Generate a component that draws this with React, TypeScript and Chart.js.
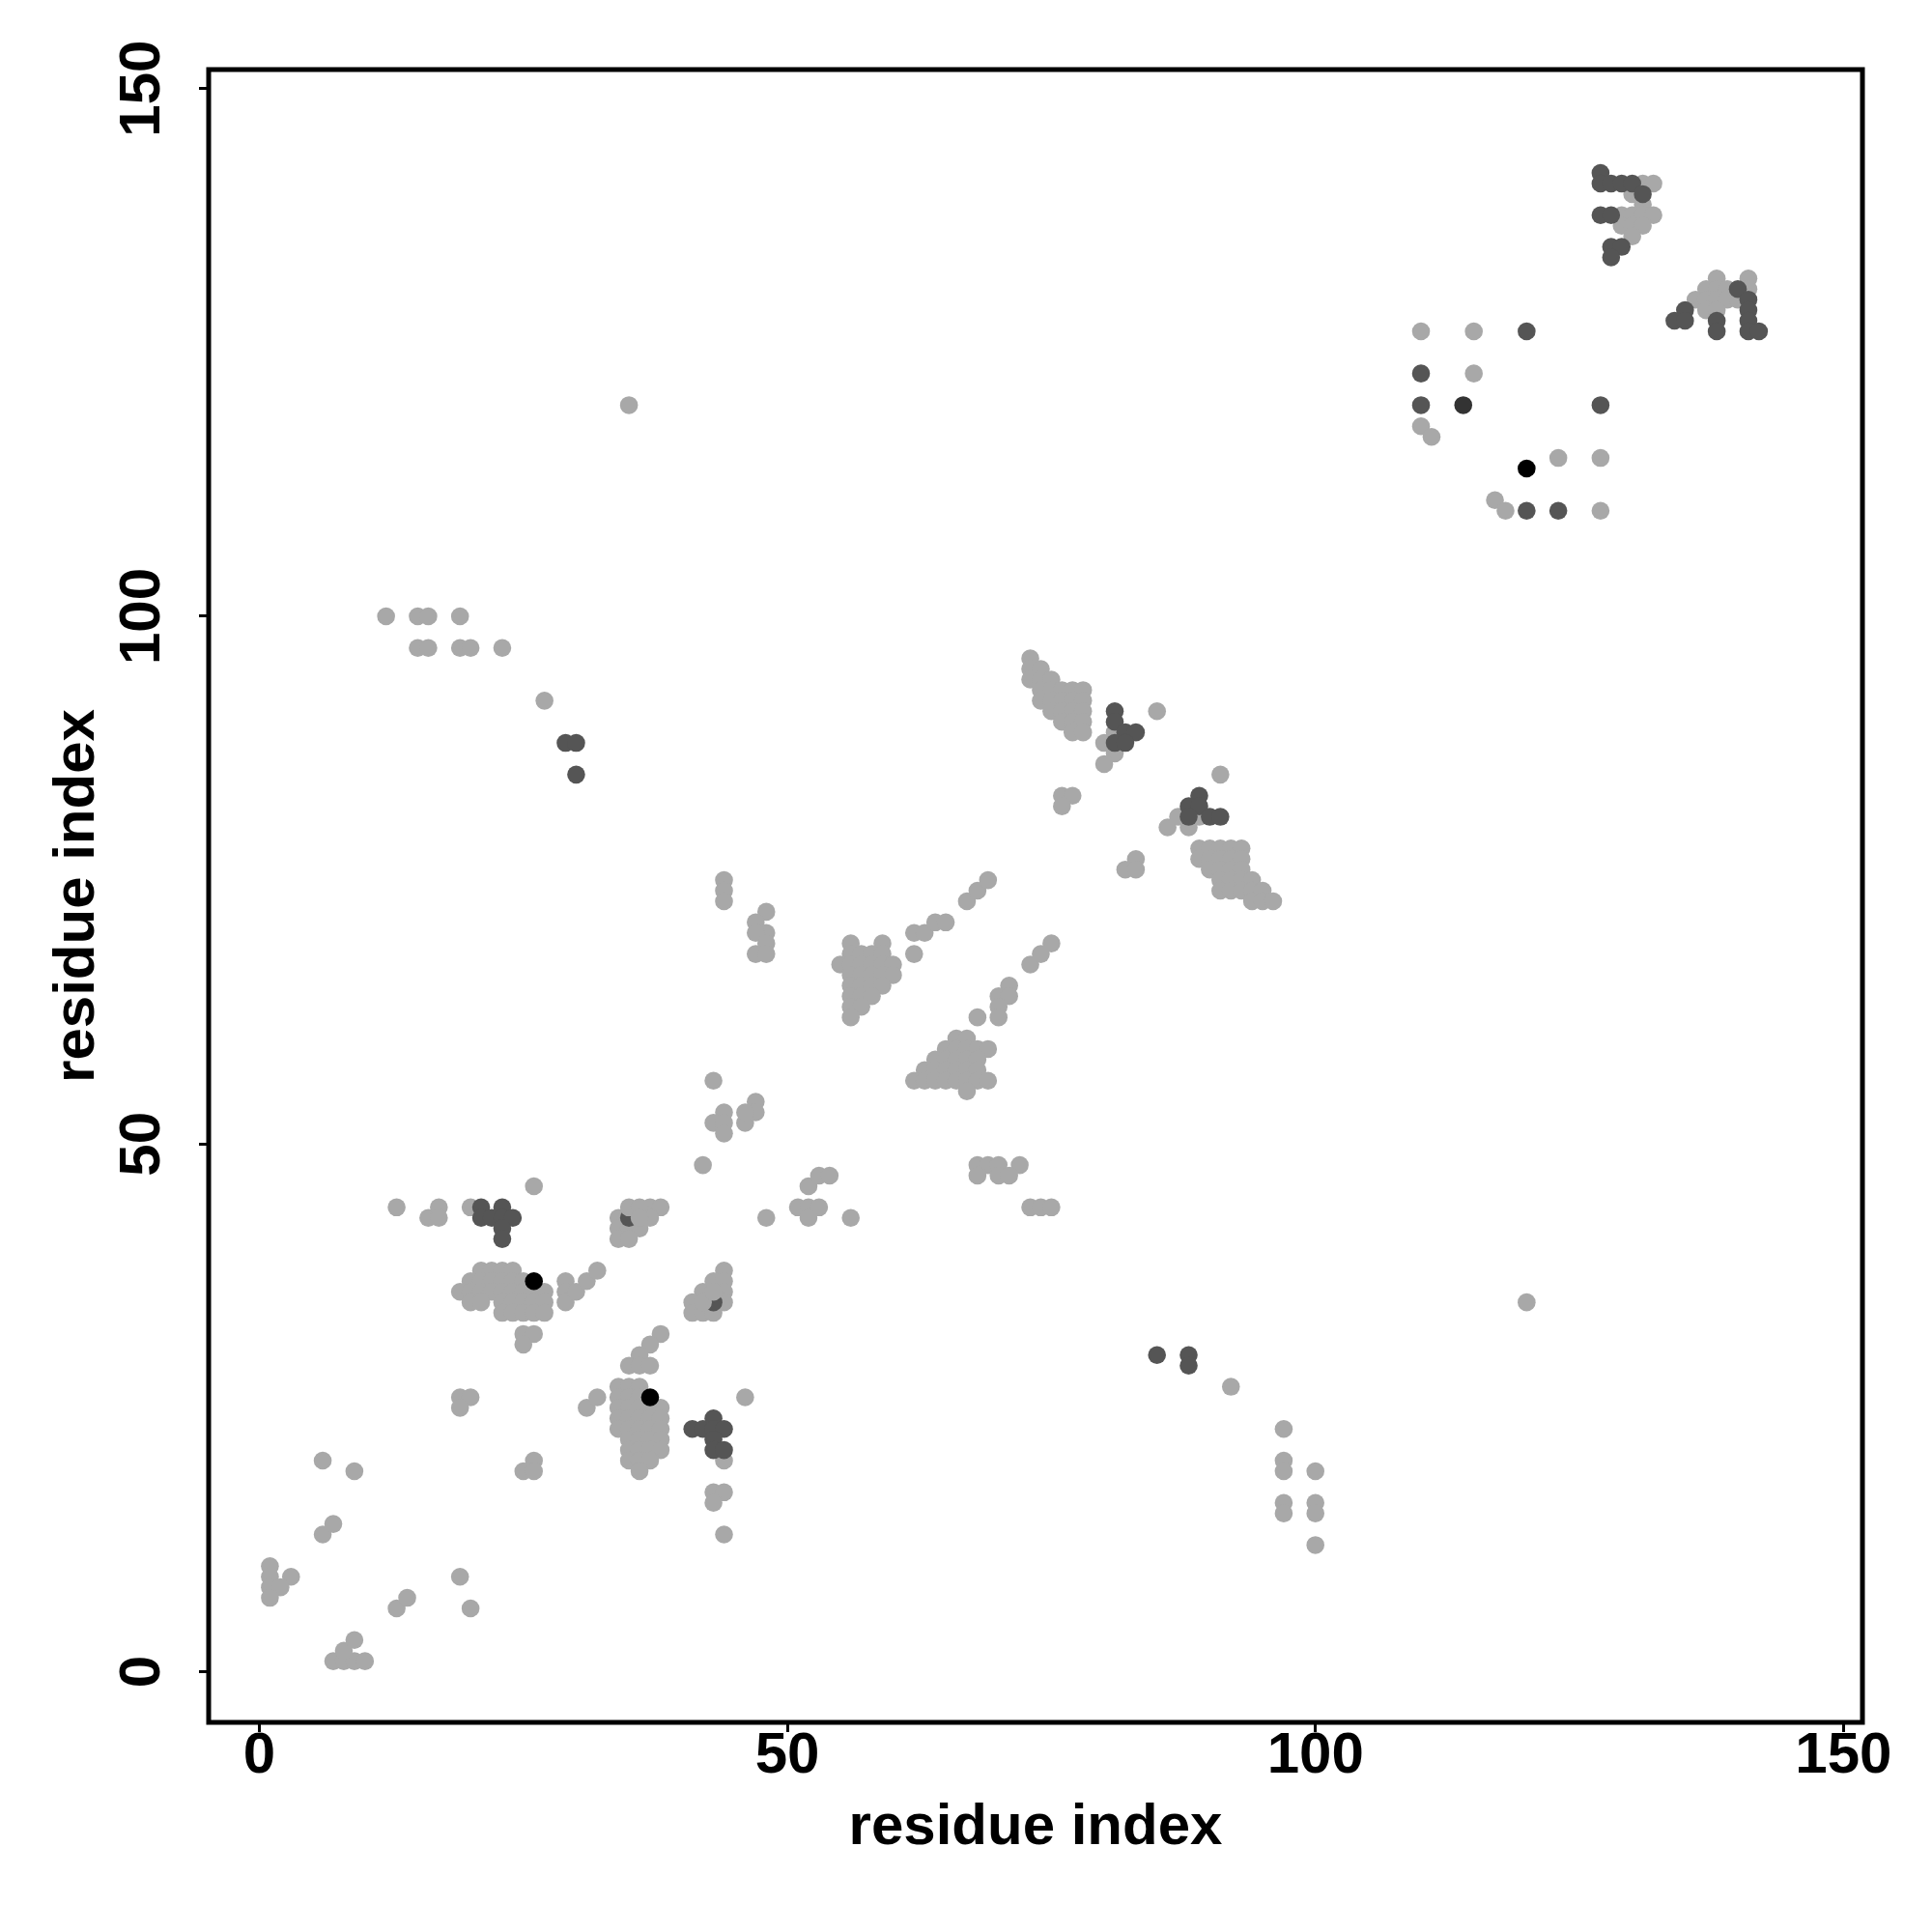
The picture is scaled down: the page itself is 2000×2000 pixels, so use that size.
import React, { useEffect, useRef } from 'react';
import { Chart, registerables } from 'chart.js';

Chart.register(...registerables);

const AXIS_MIN = -4.8;
const AXIS_MAX = 151.8;
const X_TICKS = [0, 50, 100, 150];
const Y_TICKS = [0, 50, 100, 150];
const X_TITLE = 'residue index';
const Y_TITLE = 'residue index';

const LIGHT_COLOR = '#a8a8a8';
const DARK_COLOR = '#555555';
const DARKER_COLOR = '#333333';
const BLACK_COLOR = '#000000';

// light grey contacts [x, y]
const LIGHT: number[][] = [
  [1, 10], [1, 9], [3, 9], [1, 8], [2, 8], [1, 7],
  [7, 1], [8, 1], [9, 1], [10, 1], [8, 2], [9, 3],
  [6, 13], [7, 14], [6, 20], [9, 19],
  [13, 6], [14, 7], [19, 9], [20, 6],
  [13, 44], [17, 44], [16, 43], [17, 43], [20, 44], [26, 46],
  [37, 44], [38, 44], [34, 43], [37, 43], [34, 42], [35, 42], [36, 42], [34, 41], [35, 41],
  [21, 38], [22, 38], [23, 38], [24, 38],
  [20, 37], [21, 37], [22, 37], [23, 37], [24, 37], [25, 37],
  [19, 36], [20, 36], [21, 36], [22, 36], [23, 36], [24, 36], [25, 36], [26, 36], [27, 36],
  [20, 35], [21, 35], [23, 35], [24, 35], [25, 35], [26, 35], [27, 35],
  [23, 34], [24, 34], [25, 34], [26, 34], [27, 34],
  [25, 32], [26, 32], [25, 31],
  [29, 37], [29, 36], [29, 35], [30, 36], [31, 37], [32, 38],
  [44, 38], [43, 37], [44, 37], [42, 36], [44, 36], [41, 35], [44, 35], [41, 34], [42, 34], [43, 34],
  [38, 32], [37, 31], [36, 30], [35, 29], [36, 29], [37, 29],
  [34, 27], [35, 27], [36, 27],
  [34, 26], [35, 26], [36, 26],
  [34, 25], [35, 25], [36, 25], [37, 25], [38, 25],
  [34, 24], [35, 24], [36, 24], [37, 24], [38, 24],
  [34, 23], [35, 23], [36, 23], [37, 23], [38, 23],
  [35, 22], [36, 22], [37, 22], [38, 22],
  [35, 21], [36, 21], [37, 21], [38, 21],
  [35, 20], [36, 20], [37, 20],
  [36, 19],
  [31, 25], [32, 26], [19, 26], [20, 26], [19, 25],
  [26, 20], [25, 19], [26, 19],
  [44, 20], [46, 26], [43, 17], [44, 17], [43, 16], [44, 13],
  [42, 48], [43, 56], [44, 53], [43, 52], [44, 52], [44, 51], [46, 52], [47, 54], [47, 53], [46, 53],
  [48, 43], [52, 46], [53, 47], [54, 47], [51, 44], [52, 44], [53, 44], [52, 43], [56, 43],
  [68, 48], [69, 48], [70, 48], [72, 48], [68, 47], [70, 47], [71, 47],
  [73, 44], [74, 44], [75, 44],
  [44, 75], [44, 74], [44, 73], [48, 72], [47, 71], [48, 70], [47, 70], [48, 69], [47, 68], [48, 68],
  [56, 69], [59, 69],
  [56, 68], [57, 68], [58, 68], [59, 68],
  [55, 67], [56, 67], [57, 67], [58, 67], [59, 67], [60, 67],
  [56, 66], [57, 66], [58, 66], [59, 66], [60, 66],
  [56, 65], [57, 65], [58, 65], [59, 65],
  [56, 64], [57, 64], [58, 64],
  [56, 63], [57, 63],
  [56, 62],
  [62, 68], [62, 70], [63, 70], [64, 71], [65, 71], [67, 73], [68, 74], [69, 75],
  [73, 67], [74, 68], [75, 69], [71, 65], [70, 64], [71, 64], [70, 63], [70, 62], [68, 62],
  [66, 60], [67, 60],
  [65, 59], [66, 59], [67, 59], [68, 59], [69, 59],
  [64, 58], [65, 58], [66, 58], [67, 58], [68, 58],
  [63, 57], [64, 57], [65, 57], [66, 57], [67, 57], [68, 57],
  [62, 56], [63, 56], [64, 56], [65, 56], [66, 56], [67, 56], [68, 56], [69, 56],
  [67, 55],
  [73, 96], [73, 95], [74, 95], [73, 94], [74, 94], [75, 94],
  [74, 93], [75, 93], [76, 93], [77, 93], [78, 93],
  [74, 92], [75, 92], [76, 92], [77, 92], [78, 92],
  [75, 91], [76, 91], [77, 91], [78, 91],
  [76, 90], [77, 90], [78, 90],
  [77, 89], [78, 89],
  [80, 88], [81, 89], [81, 87], [80, 86], [85, 91],
  [76, 83], [77, 83], [76, 82],
  [83, 77], [82, 76], [83, 76],
  [86, 80], [87, 81], [88, 80], [89, 81], [91, 85],
  [89, 78], [90, 78], [91, 78], [92, 78], [93, 78],
  [89, 77], [90, 77], [91, 77], [92, 77], [93, 77],
  [90, 76], [91, 76], [92, 76], [93, 76],
  [91, 75], [92, 75], [93, 75], [94, 75],
  [91, 74], [92, 74], [93, 74], [94, 74], [95, 74],
  [94, 73], [95, 73], [96, 73],
  [12, 100], [15, 100], [16, 100], [19, 100], [15, 97], [16, 97], [19, 97], [20, 97], [23, 97], [27, 92], [35, 120],
  [120, 35], [92, 27], [97, 23], [97, 20], [97, 19], [100, 19], [97, 16], [97, 15], [100, 16], [100, 15], [100, 12],
  [110, 127], [115, 127], [115, 123], [110, 118], [111, 117], [123, 115], [127, 115], [117, 111], [118, 110], [127, 110],
  [131, 141], [132, 141], [130, 140], [131, 139], [129, 138], [130, 138], [131, 138], [132, 138], [129, 137], [130, 137], [131, 137], [130, 136],
  [138, 132], [141, 132], [137, 131], [138, 131], [139, 131], [141, 131], [136, 130], [137, 130], [138, 130], [139, 130], [140, 130], [137, 129], [138, 129],
];

// light grey contacts that lie over the half-hidden dark ones
const LIGHT_OVER: number[][] = [[35, 44], [36, 44], [36, 43], [42, 35], [43, 36]];

// dark grey contacts partly covered by light ones
const DARK_UNDER: number[][] = [[35, 43], [43, 35]];

// dark grey contacts
const DARK: number[][] = [
  [21, 44], [23, 44], [21, 43], [22, 43], [23, 43], [24, 43], [23, 42], [23, 41],
  [41, 23], [42, 23], [43, 24], [43, 23], [44, 23], [43, 22], [43, 21], [44, 21],
  [29, 88], [30, 88], [30, 85],
  [81, 91], [81, 90], [82, 89], [83, 89], [81, 88], [82, 88],
  [89, 83], [88, 82], [89, 82], [88, 81], [90, 81], [91, 81],
  [85, 30], [88, 30], [88, 29],
  [110, 123], [110, 120], [120, 127], [127, 120], [120, 110], [123, 110],
  [127, 142], [127, 141], [128, 141], [129, 141], [130, 141], [131, 140], [127, 138], [128, 138], [128, 135], [129, 135], [128, 134],
  [140, 131], [141, 130], [135, 129], [141, 129], [134, 128], [135, 128], [138, 128], [141, 128], [138, 127], [141, 127], [142, 127],
];

const DARKER: number[][] = [[114, 120]];

const BLACK: number[][] = [[26, 37], [37, 26], [120, 114]];

const FONT_FAMILY = "'Liberation Sans', Arial, Helvetica, sans-serif";

const toXY = (arr: number[][]) => arr.map(([x, y]) => ({ x, y }));

const framePlugin = {
  id: 'frameBox',
  afterDraw(chart: any) {
    const { ctx, chartArea: a } = chart;
    ctx.save();
    ctx.strokeStyle = '#000';
    ctx.lineWidth = 5;
    ctx.lineJoin = 'miter';
    ctx.strokeRect(a.left, a.top, a.right - a.left, a.bottom - a.top);
    ctx.restore();
  },
};

export default function App() {
  const canvasRef = useRef<HTMLCanvasElement | null>(null);

  useEffect(() => {
    if (!canvasRef.current) return;
    const mk = (data: number[][], color: string) => ({
      data: toXY(data),
      backgroundColor: color,
      borderColor: color,
      pointRadius: 9.3,
      pointBorderWidth: 0,
      pointHoverRadius: 9.3,
    });
    const tickFont = { family: FONT_FAMILY, size: 60, weight: 'bold' as const, lineHeight: 1 };
    // Chart.js paints dataset 0 last (on top), so list from top layer to bottom layer
    const chart = new Chart(canvasRef.current, {
      type: 'scatter',
      data: {
        datasets: [
          mk(BLACK, BLACK_COLOR),
          mk(DARKER, DARKER_COLOR),
          mk(DARK, DARK_COLOR),
          mk(LIGHT_OVER, LIGHT_COLOR),
          mk(DARK_UNDER, DARK_COLOR),
          mk(LIGHT, LIGHT_COLOR),
        ],
      },
      options: {
        responsive: false,
        animation: false,
        devicePixelRatio: 1,
        events: [],
        layout: { padding: { left: 0, top: 72, right: 72, bottom: 0 }, autoPadding: false },
        plugins: { legend: { display: false }, tooltip: { enabled: false } },
        scales: {
          x: {
            type: 'linear',
            position: 'bottom',
            min: AXIS_MIN,
            max: AXIS_MAX,
            afterBuildTicks: (axis: any) => {
              axis.ticks = X_TICKS.map((v) => ({ value: v }));
            },
            afterFit: (axis: any) => {
              axis.height = 217;
            },
            grid: { display: true, drawOnChartArea: false, drawTicks: true, tickLength: 10, tickWidth: 3, tickColor: '#000' },
            border: { display: false },
            ticks: { autoSkip: false, maxRotation: 0, minRotation: 0, padding: -5, color: '#000', font: tickFont },
            title: {
              display: true,
              text: X_TITLE,
              color: '#000',
              font: { family: FONT_FAMILY, size: 60, weight: 'bold', lineHeight: 1 },
              padding: { top: 0, bottom: 78 },
            },
          },
          y: {
            type: 'linear',
            position: 'left',
            min: AXIS_MIN,
            max: AXIS_MAX,
            afterBuildTicks: (axis: any) => {
              axis.ticks = Y_TICKS.map((v) => ({ value: v }));
            },
            afterFit: (axis: any) => {
              axis.width = 216;
            },
            grid: { display: true, drawOnChartArea: false, drawTicks: true, tickLength: 10, tickWidth: 3, tickColor: '#000' },
            border: { display: false },
            ticks: { autoSkip: false, minRotation: 90, maxRotation: 90, crossAlign: 'center', padding: 7, color: '#000', font: tickFont },
            title: {
              display: true,
              text: Y_TITLE,
              color: '#000',
              font: { family: FONT_FAMILY, size: 60, weight: 'bold', lineHeight: 1 },
              padding: { top: 50, bottom: 0 },
            },
          },
        },
      },
      plugins: [framePlugin],
    });
    return () => chart.destroy();
  }, []);

  return (
    <div style={{ position: 'absolute', left: 0, top: 0, width: 2000, height: 2000, background: '#fff' }}>
      <canvas ref={canvasRef} width={2000} height={2000} style={{ display: 'block' }} />
    </div>
  );
}
